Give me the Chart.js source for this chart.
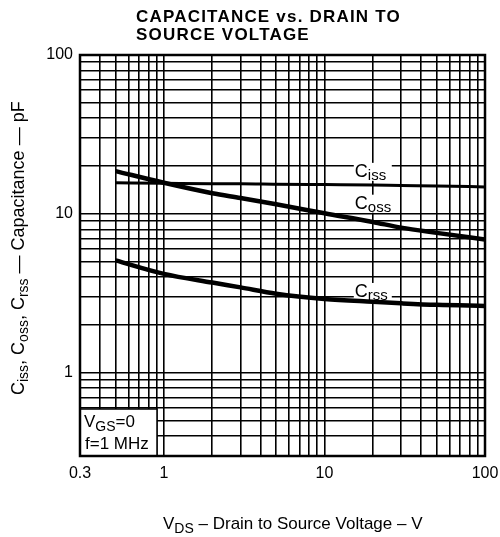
<!DOCTYPE html>
<html>
<head>
<meta charset="utf-8">
<script src="https://cdn.jsdelivr.net/npm/chart.js@4.4.0/dist/chart.umd.min.js"></script>
<style>
  body { margin: 0; background: #fff; }
  #wrap { width: 500px; height: 537px; }
</style>
</head>
<body>
<div id="wrap"><canvas id="myChart"></canvas></div>
<script>
// drain-source voltage (V) and capacitances (pF)
var vds  = [0.5, 1, 2, 3, 5, 10, 20, 30, 50, 100];
var ciss = [15.7, 15.6, 15.5, 15.5, 15.4, 15.3, 15.2, 15.1, 15.0, 14.8];
var coss = [18.6, 15.7, 13.5, 12.6, 11.5, 10.1, 8.9, 8.2, 7.6, 6.9];
var crss = [5.1, 4.2, 3.7, 3.45, 3.15, 2.92, 2.8, 2.74, 2.68, 2.64];

// log grid lines and which of them carry a label
var gridTicks = [0.3, 0.4, 0.5, 0.6, 0.7, 0.8, 0.9, 1, 2, 3, 4, 5, 6, 7, 8, 9,
                 10, 20, 30, 40, 50, 60, 70, 80, 90, 100];
var xLabels = [0.3, 1, 10, 100];
var yLabels = [1, 10, 100];

var FONT = "'Liberation Sans', Arial, sans-serif";

function pts(ys) {
  return vds.map(function (v, i) { return { x: v, y: ys[i] }; });
}

// draw text with small lowered subscript parts, returns the x after the text
function subText(ctx, x, y, parts, big, small) {
  parts.forEach(function (p) {
    if (p.sub) {
      ctx.font = small + "px " + FONT;
      ctx.fillText(p.t, x, y + big * 0.22);
    } else {
      ctx.font = big + "px " + FONT;
      ctx.fillText(p.t, x, y);
    }
    x += ctx.measureText(p.t).width;
  });
  return x;
}

var curveLabels = [
  { x: 20, y: 18.4, parts: [{ t: "C" }, { t: "iss", sub: true }] },
  { x: 20, y: 11.6, parts: [{ t: "C" }, { t: "oss", sub: true }] },
  { x: 20, y: 3.23, parts: [{ t: "C" }, { t: "rss", sub: true }] }
];

var decor = {
  id: "decor",
  beforeDatasetsDraw: function (chart) {
    var ctx = chart.ctx, a = chart.chartArea;
    var xs = chart.scales.x, ys = chart.scales.y;
    ctx.save();
    ctx.textBaseline = "middle";
    curveLabels.forEach(function (l) {
      var cx = xs.getPixelForValue(l.x), cy = ys.getPixelForValue(l.y);
      ctx.fillStyle = "#fff";
      ctx.fillRect(cx - 19, cy - 9, 38, 18);
      ctx.fillStyle = "#000";
      subText(ctx, cx - 18, cy, l.parts, 18, 15);
    });
    // condition box in lower-left corner
    ctx.fillStyle = "#fff";
    ctx.fillRect(a.left, 409, 77, a.bottom - 409);
    ctx.strokeStyle = "#000";
    ctx.lineWidth = 1.5;
    ctx.strokeRect(a.left, 409, 77, a.bottom - 409);
    ctx.fillStyle = "#000";
    ctx.textBaseline = "alphabetic";
    subText(ctx, 84, 427, [{ t: "V" }, { t: "GS", sub: true }, { t: "=0" }], 17, 14);
    subText(ctx, 85, 449, [{ t: "f=1 MHz" }], 17, 14);
    ctx.restore();
  },
  afterDraw: function (chart) {
    var ctx = chart.ctx, a = chart.chartArea;
    ctx.save();
    ctx.strokeStyle = "#000";
    ctx.lineWidth = 2.5;
    ctx.strokeRect(a.left, a.top, a.right - a.left, a.bottom - a.top);

    ctx.fillStyle = "#000";
    ctx.textBaseline = "alphabetic";
    ctx.font = "bold 17px " + FONT;
    ctx.letterSpacing = "1.2px";
    ctx.fillText("CAPACITANCE vs. DRAIN TO", 136, 22);
    ctx.fillText("SOURCE VOLTAGE", 136, 40);
    ctx.letterSpacing = "0px";

    subText(ctx, 163, 529, [{ t: "V" }, { t: "DS", sub: true },
      { t: " \u2013 Drain to Source Voltage \u2013 V" }], 17, 14);

    ctx.translate(24, 395);
    ctx.rotate(-Math.PI / 2);
    subText(ctx, 0, 0, [{ t: "C" }, { t: "iss", sub: true }, { t: ", C" },
      { t: "oss", sub: true }, { t: ", C" }, { t: "rss", sub: true },
      { t: " \u2014 Capacitance \u2014 pF" }], 18, 14);
    ctx.restore();
  }
};

function logAxis(labels, size, pad) {
  return {
    type: "logarithmic",
    min: 0.3,
    max: 100,
    afterBuildTicks: function (scale) {
      scale.ticks = gridTicks.map(function (v) { return { value: v }; });
    },
    ticks: {
      autoSkip: false,
      maxRotation: 0,
      color: "#000",
      padding: pad,
      font: { family: FONT, size: size },
      callback: function (value) {
        return labels.indexOf(value) >= 0 ? String(value) : "";
      }
    },
    grid: { color: "#000", lineWidth: 1.6, drawTicks: false },
    border: { display: false }
  };
}

var xAxis = logAxis(xLabels, 16, 8);
xAxis.afterFit = function (scale) {
  scale.height = 81;
  scale.paddingLeft = 0;
  scale.paddingRight = 0;
};
var yAxis = logAxis(yLabels, 16, 7);
yAxis.afterFit = function (scale) {
  scale.width = 80;
  scale.paddingTop = 0;
  scale.paddingBottom = 0;
};

new Chart("myChart", {
  type: "line",
  data: {
    datasets: [
      { label: "Ciss", data: pts(ciss), borderWidth: 3 },
      { label: "Coss", data: pts(coss), borderWidth: 4.5 },
      { label: "Crss", data: pts(crss), borderWidth: 4.5 }
    ].map(function (d) {
      d.borderColor = "#000";
      d.pointRadius = 0;
      d.fill = false;
      d.cubicInterpolationMode = "monotone";
      return d;
    })
  },
  options: {
    responsive: true,
    maintainAspectRatio: false,
    animation: false,
    layout: { padding: { top: 55, right: 15, left: 0, bottom: 0 } },
    plugins: { legend: { display: false }, tooltip: { enabled: false } },
    scales: { x: xAxis, y: yAxis }
  },
  plugins: [decor]
});
</script>
</body>
</html>
